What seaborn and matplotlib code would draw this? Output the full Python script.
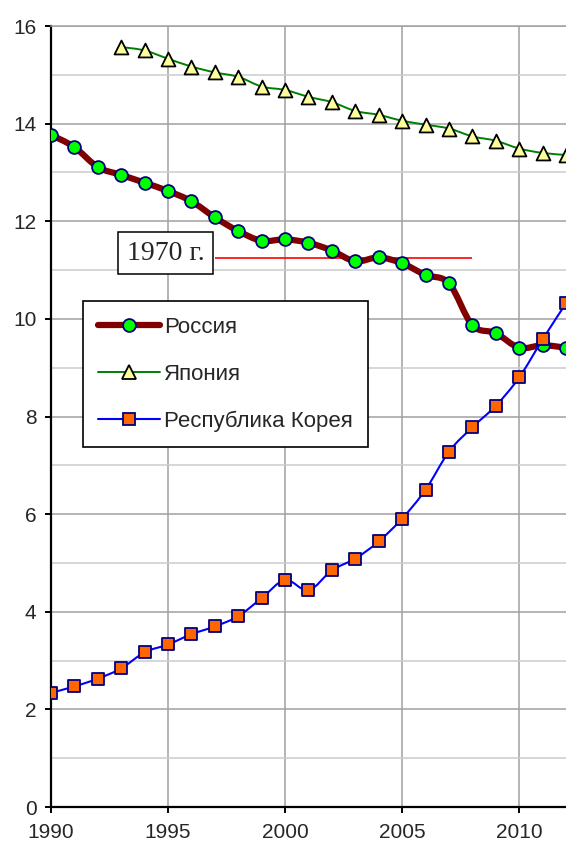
import numpy as np
import pandas as pd
import matplotlib
matplotlib.use('Agg')
import matplotlib.pyplot as plt
from matplotlib.path import Path
from matplotlib.patches import PathPatch
from matplotlib.lines import Line2D
from matplotlib.ticker import MultipleLocator
import seaborn as sns

# data
years_russia = list(range(1990, 2013))
russia = [13.77, 13.52, 13.11, 12.95, 12.79, 12.62, 12.41, 12.08, 11.80, 11.60,
          11.63, 11.56, 11.40, 11.18, 11.26, 11.14, 10.90, 10.73, 9.87, 9.71,
          9.41, 9.46, 9.41]

years_japan = list(range(1993, 2013))
japan = [15.57, 15.50, 15.33, 15.17, 15.05, 14.96, 14.76, 14.69, 14.55, 14.44,
         14.26, 14.18, 14.06, 13.98, 13.90, 13.74, 13.65, 13.49, 13.40, 13.36]

years_korea = list(range(1990, 2013))
korea = [2.34, 2.47, 2.63, 2.84, 3.17, 3.33, 3.54, 3.70, 3.91, 4.28,
         4.65, 4.44, 4.85, 5.09, 5.44, 5.91, 6.50, 7.28, 7.78, 8.22,
         8.80, 9.58, 10.32]

ref_label = '1970 г.'
ref_value = 11.24
ref_span = (1997, 2008)

labels = ['Россия', 'Япония', 'Республика Корея']

sns.set_style('white')
plt.rcParams['font.family'] = ['Liberation Sans', 'DejaVu Sans']

fig = plt.figure(figsize=(5.66, 8.43), dpi=100)
ax = fig.add_axes([0.0901, 0.0427, 0.9099, 0.9264])


def smooth_path(xs, ys):
    # Excel-style smoothed line: Catmull-Rom segments as cubic Bezier curves
    pts = np.column_stack([xs, ys]).astype(float)
    verts = [pts[0]]
    codes = [Path.MOVETO]
    n = len(pts)
    for i in range(n - 1):
        p0 = pts[max(i - 1, 0)]
        p1 = pts[i]
        p2 = pts[i + 1]
        p3 = pts[min(i + 2, n - 1)]
        verts += [p1 + (p2 - p0) / 6, p2 - (p3 - p1) / 6, p2]
        codes += [Path.CURVE4] * 3
    return Path(verts, codes)


# reference line for 1970
ax.hlines(ref_value, ref_span[0], ref_span[1], color='red', lw=1.2, zorder=2)

series = [
    (years_russia, russia, '#800000', 4.5, 'o', '#00ff00', '#000080', 85),
    (years_japan, japan, '#008000', 1.4, '^', '#ffff99', 'black', 100),
    (years_korea, korea, '#0000ff', 1.5, 's', '#ff6600', '#000080', 72),
]

for i, (xs, ys, lc, lw, mk, mfc, mec, ms) in enumerate(series):
    patch = PathPatch(smooth_path(xs, ys), facecolor='none', edgecolor=lc,
                      lw=lw, capstyle='round', joinstyle='round', zorder=3 + 2 * i)
    ax.add_patch(patch)
    df = pd.DataFrame({'year': xs, 'value': ys})
    sns.scatterplot(data=df, x='year', y='value', marker=mk, s=ms, color=mfc,
                    edgecolor=mec, linewidth=1.3, ax=ax, zorder=4 + 2 * i)

ax.set_xlim(1990, 2012)
ax.set_ylim(0, 16)
ax.xaxis.set_major_locator(MultipleLocator(5))
ax.yaxis.set_major_locator(MultipleLocator(2))
ax.yaxis.set_minor_locator(MultipleLocator(1))
ax.set_xlabel('')
ax.set_ylabel('')

ax.grid(which='major', color='#a0a0a0', lw=1.1)
ax.grid(which='minor', axis='y', color='#cccccc', lw=1.1)
ax.set_axisbelow(True)

for side in ['left', 'bottom']:
    ax.spines[side].set_color('black')
    ax.spines[side].set_linewidth(1.6)
ax.spines['top'].set_color('#a0a0a0')
ax.spines['top'].set_linewidth(1.1)
ax.spines['right'].set_visible(False)

ax.tick_params(axis='both', which='major', direction='out', length=4.5, width=1.4,
               color='black', labelsize=15, left=True, bottom=True)
ax.tick_params(axis='y', which='minor', length=0)
ax.tick_params(axis='y', pad=6)
ax.tick_params(axis='x', pad=7)

ax.text(1994.9, 11.35, ref_label, family='Liberation Serif', fontsize=20,
        ha='center', va='center', zorder=10,
        bbox=dict(boxstyle='square,pad=0.3', facecolor='white', edgecolor='black', lw=1.1))

handles = [
    Line2D([], [], color=c[2], lw=c[3], marker=c[4], markersize=np.sqrt(c[7]),
           markerfacecolor=c[5], markeredgecolor=c[6], markeredgewidth=1.3,
           solid_capstyle='round')
    for c in series
]
leg = ax.legend(handles, labels, loc='upper left', bbox_to_anchor=(0.062, 0.648),
                borderaxespad=0, fontsize=16, handlelength=2.75, handletextpad=0.2,
                labelspacing=1.17, borderpad=0.7, fancybox=False, framealpha=1,
                edgecolor='black')
leg.get_frame().set_linewidth(1.2)
leg.set_zorder(11)

fig.savefig('out.png', dpi=100)
